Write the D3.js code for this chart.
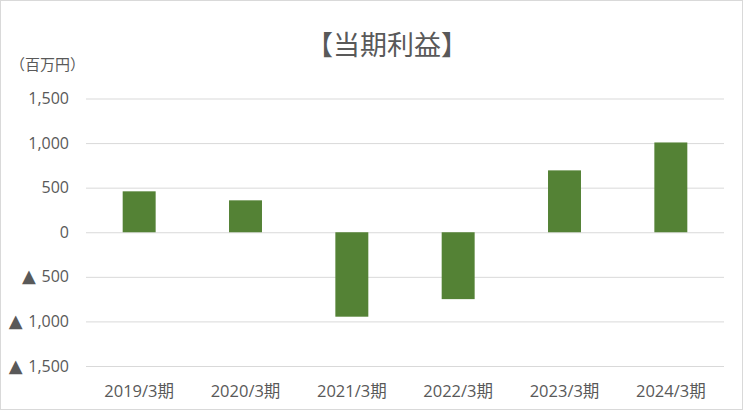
<!DOCTYPE html>
<html>
<head>
<meta charset="utf-8">
<script src="https://cdn.jsdelivr.net/npm/d3@7"></script>
<style>
  body { margin: 0; background: #fff; }
  svg text { font-family: "Open Sans", "Noto Sans CJK JP", sans-serif; fill: #595959; }
  .cjk { font-family: "Noto Sans CJK JP", sans-serif; }
</style>
</head>
<body>
<svg width="745" height="411"></svg>
<script>
const periods = ['2019/3期', '2020/3期', '2021/3期', '2022/3期', '2023/3期', '2024/3期']
const netIncome = [459, 358, -947, -750, 694, 1007]
const yTicks = [1500, 1000, 500, 0, -500, -1000, -1500]

const svg = d3.select('svg')

// chart border
svg.append('rect')
  .attr('x', 0.5).attr('y', 0.5)
  .attr('width', 742).attr('height', 409)
  .attr('fill', 'none')
  .attr('stroke', '#d9d9d9')

const x = d3.scaleBand()
  .domain(periods)
  .range([86, 724])
  .paddingInner(0.69)
  .paddingOuter(0.345)

const y = d3.scaleLinear()
  .domain([-1500, 1500])
  .range([366, 98.5])

const fmt = d3.format(',')

// gridlines + tick labels
const yAxis = d3.axisLeft(y)
  .tickValues(yTicks)
  .tickSize(-(724 - 86))
  .tickPadding(17)
  .tickFormat(d => fmt(Math.abs(d)))

const gy = svg.append('g')
  .attr('transform', 'translate(86,0)')
  .call(yAxis)
gy.select('.domain').remove()
gy.selectAll('.tick line').attr('stroke', '#d9d9d9').attr('stroke-width', 1)
gy.selectAll('.tick text')
  .attr('font-size', 16)
  .attr('fill', '#595959')
  .each(function(d) {
    if (d >= 0) return
    const t = d3.select(this)
    const label = t.text()
    t.text(null)
    t.append('tspan').attr('font-family', 'DejaVu Sans').attr('font-size', 18).text('▲ ')
    t.append('tspan').text(label)
  })

// bars
svg.append('g')
  .selectAll('rect')
  .data(netIncome)
  .join('rect')
  .attr('x', (d, i) => x(periods[i]))
  .attr('width', x.bandwidth())
  .attr('y', d => y(Math.max(0, d)))
  .attr('height', d => Math.abs(y(d) - y(0)))
  .attr('fill', '#548235')

// x labels
const xAxis = d3.axisBottom(x).tickSize(0).tickPadding(0)
const gx = svg.append('g')
  .attr('transform', 'translate(0,380)')
  .call(xAxis)
gx.select('.domain').remove()
gx.selectAll('.tick text')
  .attr('font-size', 16.5)
  .attr('dy', '1.0em')
  .attr('fill', '#595959')

// title
svg.append('text')
  .attr('class', 'cjk')
  .attr('x', 387).attr('y', 55)
  .attr('text-anchor', 'middle')
  .attr('font-size', 27)
  .text('【当期利益】')

// unit
svg.append('text')
  .attr('class', 'cjk')
  .attr('x', 10).attr('y', 70)
  .attr('font-size', 15)
  .text('（百万円）')
</script>
</body>
</html>
